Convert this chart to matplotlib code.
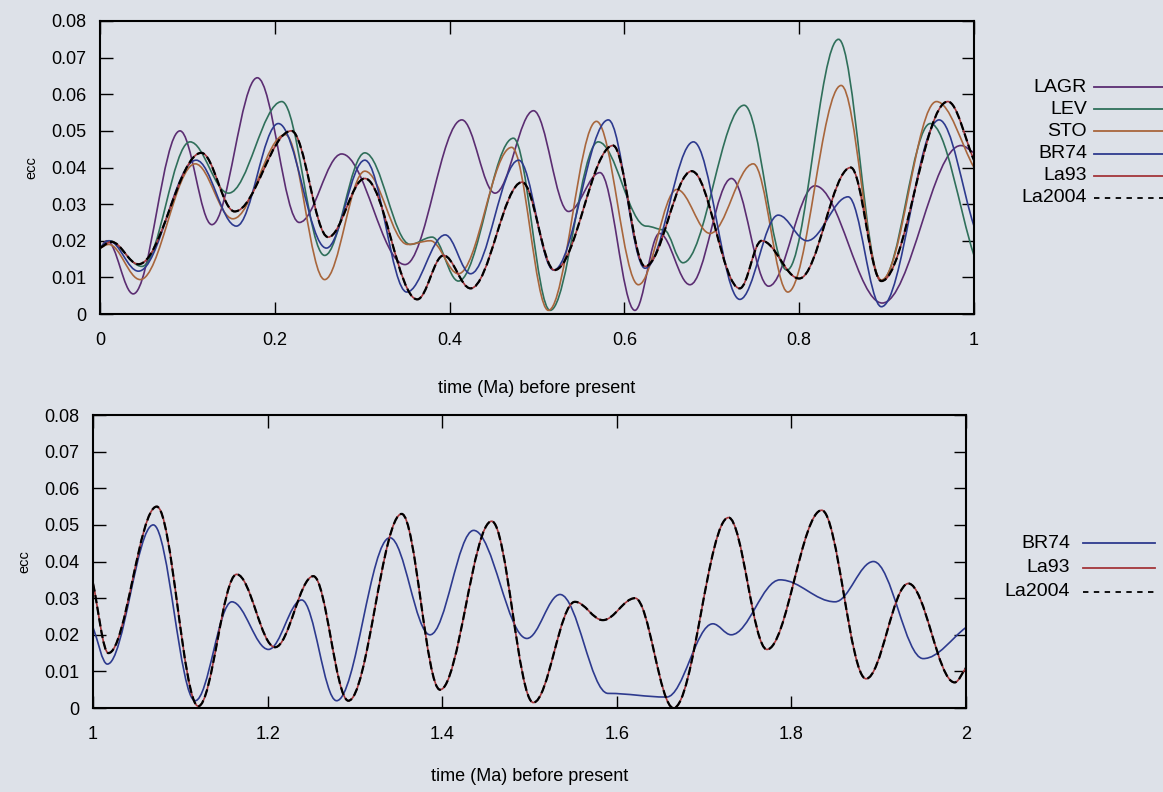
"""Orbital eccentricity solutions, 0-2 Ma, redrawn from a book figure."""

import matplotlib
matplotlib.use("Agg")
import matplotlib.pyplot as plt
from matplotlib.lines import Line2D
from matplotlib.patches import PathPatch
from matplotlib.path import Path

plt.rcParams["font.family"] = ["Liberation Sans", "DejaVu Sans"]

# ---- data: (time in Ma, eccentricity) at peaks and troughs ----
# top panel, 0-1 Ma
lagr_t = [0.0, 0.008, 0.038, 0.0915, 0.128, 0.18, 0.228, 0.2765, 0.349, 0.414, 0.452, 0.496,
          0.536, 0.572, 0.612, 0.64, 0.675, 0.7225, 0.765, 0.818, 0.895, 0.985, 1.0]
lagr_e = [0.018, 0.020, 0.0055, 0.050, 0.0244, 0.0645, 0.025, 0.0437, 0.0135, 0.053, 0.033, 0.0555,
          0.028, 0.0386, 0.001, 0.022, 0.008, 0.037, 0.0076, 0.035, 0.003, 0.046, 0.044]

lev_t = [0.0, 0.01, 0.048, 0.103, 0.147, 0.208, 0.257, 0.303, 0.355, 0.38, 0.41, 0.473,
         0.515, 0.570, 0.625, 0.645, 0.667, 0.737, 0.786, 0.845, 0.894, 0.950, 1.0]
lev_e = [0.018, 0.020, 0.013, 0.047, 0.033, 0.058, 0.016, 0.044, 0.019, 0.021, 0.009, 0.048,
         0.001, 0.047, 0.024, 0.023, 0.014, 0.057, 0.012, 0.075, 0.009, 0.052, 0.016]

sto_t = [0.0, 0.01, 0.046, 0.109, 0.152, 0.212, 0.257, 0.303, 0.352, 0.378, 0.41, 0.471,
         0.513, 0.568, 0.616, 0.66, 0.698, 0.7475, 0.787, 0.848, 0.894, 0.957, 1.0]
sto_e = [0.018, 0.019, 0.0094, 0.041, 0.026, 0.049, 0.0094, 0.039, 0.019, 0.020, 0.011, 0.0455,
         0.001, 0.0526, 0.008, 0.034, 0.022, 0.041, 0.006, 0.0624, 0.0093, 0.058, 0.040]

br74_t = [0.0, 0.01, 0.044, 0.11, 0.156, 0.204, 0.259, 0.303, 0.351, 0.395, 0.424, 0.479,
          0.519, 0.5816, 0.6236, 0.679, 0.732, 0.776, 0.809, 0.856, 0.894, 0.96, 1.0]
br74_e = [0.018, 0.020, 0.0117, 0.042, 0.024, 0.052, 0.018, 0.042, 0.006, 0.0216, 0.011, 0.042,
          0.012, 0.053, 0.0125, 0.047, 0.004, 0.027, 0.020, 0.032, 0.002, 0.053, 0.024]

la93_t = [0.0, 0.013, 0.044, 0.116, 0.154, 0.219, 0.261, 0.303, 0.363, 0.393, 0.424, 0.483,
          0.52, 0.587, 0.6236, 0.677, 0.732, 0.757, 0.80, 0.859, 0.894, 0.970, 1.0]
la93_e = [0.018, 0.0197, 0.0136, 0.044, 0.028, 0.050, 0.021, 0.037, 0.004, 0.016, 0.007, 0.036,
          0.012, 0.046, 0.013, 0.039, 0.007, 0.020, 0.0097, 0.040, 0.009, 0.058, 0.042]

la2004_t = [0.0, 0.013, 0.044, 0.116, 0.154, 0.219, 0.261, 0.303, 0.363, 0.393, 0.424, 0.483,
            0.52, 0.587, 0.6236, 0.677, 0.732, 0.757, 0.80, 0.859, 0.894, 0.970, 1.0]
la2004_e = [0.018, 0.0197, 0.0136, 0.044, 0.028, 0.050, 0.021, 0.037, 0.004, 0.016, 0.007, 0.036,
            0.012, 0.046, 0.013, 0.039, 0.007, 0.020, 0.0097, 0.040, 0.009, 0.058, 0.042]

# bottom panel, 1-2 Ma
br74_2_t = [1.0, 1.0164, 1.069, 1.117, 1.159, 1.201, 1.239, 1.279, 1.34, 1.386, 1.436, 1.497,
            1.535, 1.59, 1.657, 1.71, 1.731, 1.787, 1.85, 1.894, 1.951, 2.0]
br74_2_e = [0.022, 0.012, 0.050, 0.002, 0.029, 0.016, 0.0295, 0.002, 0.0465, 0.020, 0.0485, 0.019,
            0.031, 0.004, 0.003, 0.023, 0.020, 0.035, 0.029, 0.040, 0.0135, 0.022]

la93_2_t = [1.0, 1.0176, 1.073, 1.1206, 1.1645, 1.2085, 1.2524, 1.2925, 1.3536, 1.3975, 1.4567,
            1.5044, 1.552, 1.584, 1.621, 1.665, 1.728, 1.772, 1.8347, 1.8855, 1.934, 1.987, 2.0]
la93_2_e = [0.034, 0.015, 0.055, 0.0005, 0.0365, 0.0166, 0.036, 0.002, 0.053, 0.005, 0.051,
            0.0015, 0.029, 0.024, 0.030, 0.0, 0.052, 0.016, 0.054, 0.008, 0.034, 0.007, 0.011]

la2004_2_t = la93_2_t
la2004_2_e = la93_2_e

y_ticks = [0, 0.01, 0.02, 0.03, 0.04, 0.05, 0.06, 0.07, 0.08]
y_labels = ["0", "0.01", "0.02", "0.03", "0.04", "0.05", "0.06", "0.07", "0.08"]
x_ticks_top = [0, 0.2, 0.4, 0.6, 0.8, 1.0]
x_labels_top = ["0", "0.2", "0.4", "0.6", "0.8", "1"]
x_ticks_bot = [1.0, 1.2, 1.4, 1.6, 1.8, 2.0]
x_labels_bot = ["1", "1.2", "1.4", "1.6", "1.8", "2"]

PAPER = "#dde1e8"
COLORS = {
    "LAGR": "#5b2d72",
    "LEV": "#2f6f5a",
    "STO": "#a8663c",
    "BR74": "#2d3a8e",
    "La93": "#a3353a",
    "La2004": "black",
}


def smooth_path(ts, es, k=0.36):
    """Bezier path through the read extrema, flat tangents at each extremum."""
    verts = [(ts[0], es[0])]
    codes = [Path.MOVETO]
    n = len(ts)
    for i in range(n - 1):
        t0, e0, t1, e1 = ts[i], es[i], ts[i + 1], es[i + 1]
        dt = t1 - t0
        c1 = (t0 + k * dt, e0) if i > 0 else (t0 + dt / 3, e0 + (e1 - e0) / 3)
        c2 = (t1 - k * dt, e1) if i < n - 2 else (t1 - dt / 3, e1 - (e1 - e0) / 3)
        verts += [c1, c2, (t1, e1)]
        codes += [Path.CURVE4] * 3
    return Path(verts, codes)


def draw(ax, ts, es, name):
    ls = "--" if name == "La2004" else "-"
    lw = 1.6 if name == "La2004" else 1.2
    ax.add_patch(PathPatch(smooth_path(ts, es), fill=False, edgecolor=COLORS[name],
                           lw=lw, linestyle=ls, zorder=3 if name == "La2004" else 2))


def style(ax, xlim, xticks, xlabels):
    ax.set_facecolor(PAPER)
    ax.set_xlim(*xlim)
    ax.set_ylim(0, 0.08)
    ax.set_xticks(xticks, xlabels)
    ax.set_yticks(y_ticks, y_labels)
    ax.tick_params(direction="in", length=9, width=1, top=True, right=True, labelsize=13)
    ax.tick_params(axis="x", pad=13)
    ax.tick_params(axis="y", pad=10)
    for sp in ax.spines.values():
        sp.set_linewidth(1.5)
    ax.set_ylabel("ecc", fontsize=10.5, labelpad=9)


def side_legend(fig, names, x_text, y_first, step, x0, x1):
    W, H = fig.get_size_inches() * fig.dpi
    for i, name in enumerate(names):
        y = 1 - (y_first + i * step) / H
        fig.text(x_text / W, y, name, ha="right", va="center", fontsize=14)
        ls = (0, (3, 3)) if name == "La2004" else "-"
        fig.add_artist(Line2D([x0 / W, x1 / W], [y, y], transform=fig.transFigure,
                              color=COLORS[name], lw=1.3, linestyle=ls))


fig = plt.figure(figsize=(11.63, 7.92), dpi=100, facecolor=PAPER)

ax1 = fig.add_axes([0.086, 0.6035, 0.7515, 0.37])
style(ax1, (0, 1), x_ticks_top, x_labels_top)
for ts, es, name in [(lagr_t, lagr_e, "LAGR"), (lev_t, lev_e, "LEV"), (sto_t, sto_e, "STO"),
                     (br74_t, br74_e, "BR74"), (la93_t, la93_e, "La93"),
                     (la2004_t, la2004_e, "La2004")]:
    draw(ax1, ts, es, name)
ax1.set_xlabel("time (Ma) before present", fontsize=13, labelpad=22)

ax2 = fig.add_axes([0.080, 0.106, 0.7506, 0.37])
style(ax2, (1, 2), x_ticks_bot, x_labels_bot)
for ts, es, name in [(br74_2_t, br74_2_e, "BR74"), (la93_2_t, la93_2_e, "La93"),
                     (la2004_2_t, la2004_2_e, "La2004")]:
    draw(ax2, ts, es, name)
ax2.set_xlabel("time (Ma) before present", fontsize=13, labelpad=18)

side_legend(fig, ["LAGR", "LEV", "STO", "BR74", "La93", "La2004"], 1087, 87, 22.2, 1094, 1163)
side_legend(fig, ["BR74", "La93", "La2004"], 1070, 543, 24.5, 1083, 1155)

fig.savefig("out.png", dpi=100, facecolor=PAPER)
